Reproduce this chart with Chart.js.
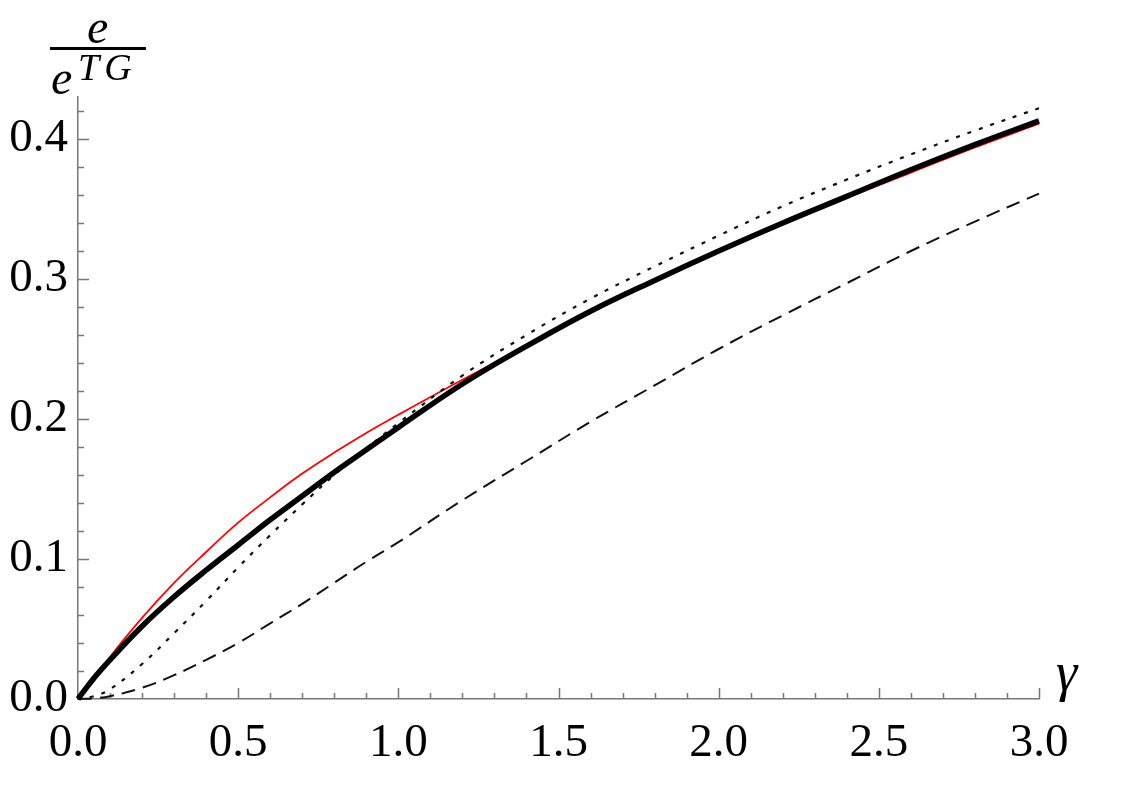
<!DOCTYPE html>
<html>
<head>
<meta charset="utf-8">
<script src="https://cdn.jsdelivr.net/npm/chart.js@4/dist/chart.umd.min.js"></script>
<style>
  body { margin: 0; background: #fff; }
  #wrap { position: relative; width: 1123px; height: 794px; }
  .math { position: absolute; font-family: 'Liberation Serif', serif; font-style: italic; line-height: 1; color: #000; white-space: nowrap; }
  #bar { position: absolute; left: 50px; top: 47px; width: 96px; height: 3px; background: #000; }
</style>
</head>
<body>
<div id="wrap">
  <canvas id="myChart"></canvas>
  <span class="math" style="left:87px; top:3px; font-size:48px;">e</span>
  <div id="bar"></div>
  <span class="math" style="left:51px; top:54px; font-size:48px;">e</span>
  <span class="math" style="left:78px; top:48px; font-size:38px; letter-spacing:5px;">TG</span>
  <span class="math" style="left:1056px; top:645px; font-size:54px;">γ</span>
</div>
<script>
'use strict';

// chart data

let gammaValues = [0, 0.05, 0.1, 0.2, 0.3, 0.4, 0.5, 0.6, 0.7, 0.8, 0.9, 1.0, 1.2, 1.4, 1.6, 1.8, 2.0, 2.2, 2.4, 2.6, 2.8, 3.0];
let thickValues = [0, 0.015, 0.028, 0.052, 0.073, 0.092, 0.110, 0.128, 0.145, 0.162, 0.178, 0.194, 0.225, 0.252, 0.277, 0.299, 0.320, 0.340, 0.359, 0.378, 0.396, 0.413];
let redValues = [0, 0.013, 0.030, 0.058, 0.083, 0.105, 0.126, 0.144, 0.161, 0.176, 0.190, 0.203, 0.228, 0.252, 0.276, 0.298, 0.319, 0.339, 0.358, 0.376, 0.394, 0.411];
let dottedValues = [0, 0.002, 0.007, 0.025, 0.047, 0.070, 0.094, 0.117, 0.139, 0.160, 0.179, 0.197, 0.231, 0.260, 0.286, 0.309, 0.331, 0.352, 0.371, 0.389, 0.406, 0.422];
let dashedValues = [0, 0.0005, 0.002, 0.008, 0.017, 0.028, 0.040, 0.054, 0.068, 0.083, 0.098, 0.112, 0.142, 0.170, 0.198, 0.224, 0.250, 0.274, 0.297, 0.320, 0.341, 0.361];

let xTickValues = [0, 0.5, 1.0, 1.5, 2.0, 2.5, 3.0];
let yTickValues = [0, 0.1, 0.2, 0.3, 0.4];

// style

let axisColor = '#777777';
let labelFont = { family: 'Liberation Serif', size: 47 };

// functions

function toPoints(values) {
  let points = [];
  for (let i = 0; i < gammaValues.length; i++) {
    points.push({ x: gammaValues[i], y: values[i] });
  }
  return points;
}

function makeLine(values, color, width, dash) {
  return {
    data: toPoints(values),
    borderColor: color,
    borderWidth: width,
    borderDash: dash,
    pointRadius: 0,
    tension: 0.4,
    fill: false,
    clip: 8,
  };
}

// small inward ticks, like the original axes
const tickMarks = {
  id: 'tickMarks',
  beforeDatasetsDraw(chart) {
    let ctx = chart.ctx;
    let xScale = chart.scales.x;
    let yScale = chart.scales.y;
    let axisY = yScale.getPixelForValue(0);
    let axisX = xScale.getPixelForValue(0);
    ctx.save();
    ctx.strokeStyle = axisColor;
    ctx.lineWidth = 1.5;
    ctx.beginPath();
    for (let i = 1; i <= 30; i++) {
      let px = Math.round(xScale.getPixelForValue(i / 10)) + 0.5;
      let len = i % 5 === 0 ? 11 : 6;
      ctx.moveTo(px, axisY);
      ctx.lineTo(px, axisY - len);
    }
    for (let i = 1; i <= 21; i++) {
      let py = Math.round(yScale.getPixelForValue(i * 0.02)) + 0.5;
      let len = i % 5 === 0 ? 11 : 6;
      ctx.moveTo(axisX, py);
      ctx.lineTo(axisX + len, py);
    }
    ctx.stroke();
    ctx.restore();
  }
};

function renderChart() {
  const ctx = document.getElementById('myChart');
  const config = {
    type: 'line',
    data: {
      datasets: [
        makeLine(thickValues, '#000000', 5.5, []),
        makeLine(dottedValues, '#111111', 2.2, [4, 8]),
        makeLine(dashedValues, '#111111', 2, [14, 8]),
        makeLine(redValues, '#ff0000', 1.8, []),
      ]
    },
    options: {
      responsive: true,
      maintainAspectRatio: false,
      animation: false,
      layout: { padding: { top: 97, right: 84, left: 0, bottom: 0 } },
      plugins: {
        legend: { display: false },
        tooltip: { enabled: false }
      },
      scales: {
        x: {
          type: 'linear',
          min: 0,
          max: 3,
          grid: { display: false, drawTicks: false },
          border: { display: true, color: axisColor, width: 1.5 },
          afterBuildTicks: (scale) => { scale.ticks = xTickValues.map(v => ({ value: v })); },
          afterFit: (scale) => { scale.height = 95; },
          ticks: {
            color: '#000',
            font: labelFont,
            padding: 16,
            maxRotation: 0,
            autoSkip: false,
            callback: (v) => Number(v).toFixed(1)
          }
        },
        y: {
          type: 'linear',
          min: 0,
          max: 0.43,
          grid: { display: false, drawTicks: false },
          border: { display: true, color: axisColor, width: 1.5 },
          afterBuildTicks: (scale) => { scale.ticks = yTickValues.map(v => ({ value: v })); },
          afterFit: (scale) => { scale.width = 78; },
          ticks: {
            color: '#000',
            font: labelFont,
            padding: 10,
            autoSkip: false,
            callback: (v) => Number(v).toFixed(1)
          }
        }
      }
    },
    plugins: [tickMarks]
  };
  new Chart(ctx, config);
}

// executable code

renderChart();
</script>
</body>
</html>
